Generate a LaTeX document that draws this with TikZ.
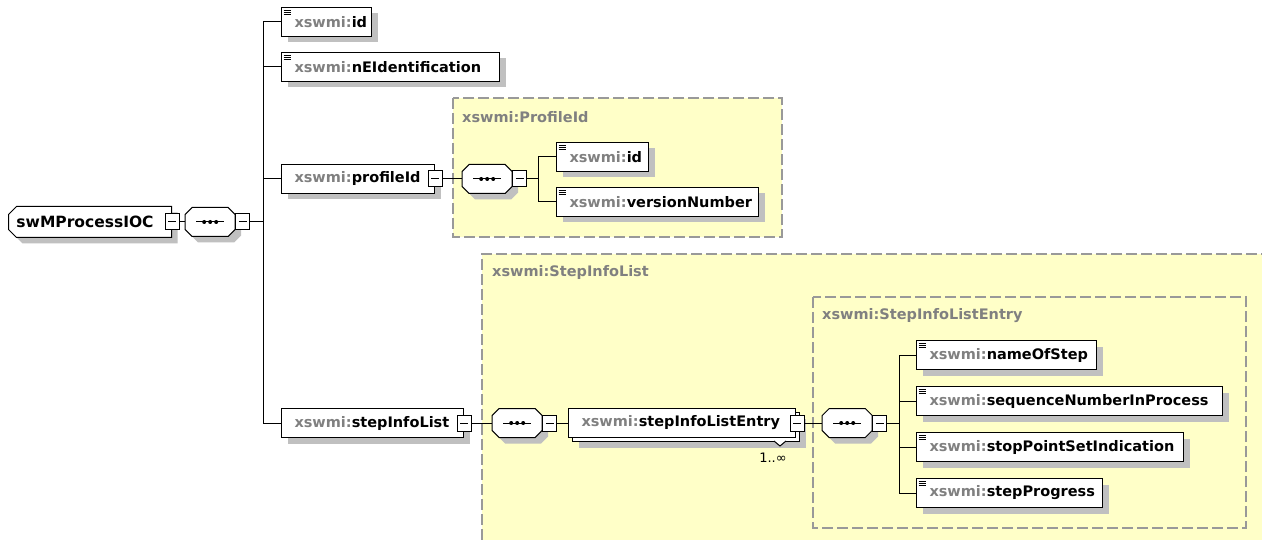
\documentclass[tikz,border=0pt]{standalone}
\usepackage{fontspec}
\setmainfont{DejaVu Sans}
\usetikzlibrary{shapes.misc,shadows}
\definecolor{ybg}{HTML}{FFFFC8}
\definecolor{dgray}{HTML}{999999}
\definecolor{sgray}{HTML}{C0C0C0}
\definecolor{pgray}{HTML}{808080}
\newcommand{\xpre}{\hspace*{13pt}{\color{pgray}xswmi:}}
\newcommand{\octpath}[2]{([shift={(#2)}]#1.center) ++(-25,-7.5) -- ++(7,-7) -- ++(36,0) -- ++(7,7) -- ++(0,15) -- ++(-7,7) -- ++(-36,0) -- ++(-7,-7) -- cycle}
\newcommand{\seqshape}[1]{%
  \fill[sgray] \octpath{#1}{6,6};
  \draw[line width=1pt, fill=white] \octpath{#1}{0,0};
  \draw[line width=1pt] ([xshift=-14pt]#1.center) -- ([xshift=14pt]#1.center);
  \foreach \k in {-6,0,6} \fill ([xshift=\k pt]#1.center) circle (2pt);}
\tikzset{
  shad/.style={drop shadow={shadow xshift=6pt, shadow yshift=-6pt, opacity=1, fill=sgray}},
  boxbase/.style={draw, fill=white, line width=1pt, rectangle, inner xsep=0pt, inner ysep=0pt,
    anchor=north west, align=left, font=\bfseries\fontsize{14.5}{16}\selectfont, minimum height=29pt},
  icon/.style={path picture={\foreach \d in {3,5,7}
      \draw[line width=0.8pt] ([shift={(2,\d)}]path picture bounding box.north west) -- ++(7,0);}},
  elem/.style={boxbase, shad, icon},
  plainel/.style={boxbase, shad},
  minus/.style={draw, fill=white, line width=1pt, rectangle, inner sep=0pt, minimum width=14pt,
    minimum height=16pt, path picture={\draw[line width=1pt]
      ([xshift=-4pt]path picture bounding box.center) -- ([xshift=4pt]path picture bounding box.center);}},
  seq/.style={rectangle, minimum width=50pt, minimum height=29pt, inner sep=0pt, anchor=west},
  conn/.style={line width=1pt},
  dsh/.style={draw=dgray, line width=1.2pt, dash pattern=on 11pt off 4pt},
  ylab/.style={anchor=west, inner sep=0pt, text=pgray, font=\bfseries\fontsize{14.5}{16}\selectfont},
}
\begin{document}
\begin{tikzpicture}[x=1pt,y=-1pt]
\useasboundingbox (0,0) rectangle (1262,540);
\fill[white] (0,0) rectangle (1262,540);
% type containers
\fill[ybg] (482,254) rectangle (1262,540);
\draw[dsh] (482,540) -- (482,254) -- (1262,254);
\fill[ybg] (453,98) rectangle (782,237);
\draw[dsh] (453,98) rectangle (782,237);
\draw[dsh] (813,297) rectangle (1246,528);
\node[ylab] (lp) at (462,117) {xswmi:ProfileId};
\node[ylab] (ls) at (492,273) {xswmi:StepInfoList};
\node[ylab] (le) at (822,316) {xswmi:StepInfoListEntry};

% root
\node[chamfered rectangle, chamfered rectangle corners={north west,south west},
  chamfered rectangle xsep=4pt, chamfered rectangle ysep=4pt, draw, fill=white, line width=1pt,
  minimum width=160pt, minimum height=31pt, inner sep=0pt, anchor=west, shad,
  font=\bfseries\fontsize{15.5}{17}\selectfont] (root) at (8,222) {\hspace*{4pt}swMProcessIOC\hspace*{14pt}};
\node[minus] (rm) at (root.east) {};
\node[seq] (seq1) at (185,222) {};
\seqshape{seq1}
\node[minus, anchor=west] (s1m) at (seq1.east) {};
\coordinate (sp1) at (263,222);

% level 1 children
\node[elem, text width=90pt] (id) at (281,7) {\xpre id};
\node[elem, text width=218pt] (nei) at (281,52) {\xpre nEIdentification};
\node[plainel, text width=153pt] (prof) at (281,164) {\hspace*{13pt}{\color{pgray}xswmi:}profileId};
\node[minus] (pm) at (prof.east) {};
\node[plainel, text width=182pt] (sil) at (281,408) {\hspace*{13pt}{\color{pgray}xswmi:}stepInfoList};
\node[minus] (sm) at (sil.east) {};

\draw[conn] (rm.east) -- (seq1.west);
\draw[conn] (s1m.east) -- (sp1);
\draw[conn] (sp1) |- (id.west);
\draw[conn] (sp1) |- (nei.west);
\draw[conn] (sp1) |- (prof.west);
\draw[conn] (sp1) |- (sil.west);

% ProfileId content
\node[seq] (seq2) at (462,179) {};
\seqshape{seq2}
\node[minus, anchor=west] (s2m) at (seq2.east) {};
\coordinate (sp2) at (538,179);
\node[elem, text width=92pt] (pid) at (556,142) {\xpre id};
\node[elem, text width=202pt] (pver) at (556,187) {\xpre versionNumber};
\draw[conn] (pm.east) -- (seq2.west);
\draw[conn] (s2m.east) -- (sp2);
\draw[conn] (sp2) |- (pid.west);
\draw[conn] (sp2) |- (pver.west);

% StepInfoList content
\node[seq] (seq3) at (492,423) {};
\seqshape{seq3}
\node[minus, anchor=west] (s3m) at (seq3.east) {};
\node[plainel, text width=227pt] (entryback) at (572,412) {\phantom{x}};
\node[boxbase, text width=227pt] (entry) at (568,408) {\hspace*{13pt}{\color{pgray}xswmi:}stepInfoListEntry};
\node[minus] (em) at ([xshift=1pt]entry.east) {};
\draw[line width=1pt, fill=white] (774,441) -- (780,446) -- (786,441);
\node[font=\fontsize{13}{15}\selectfont, inner sep=0pt] (mult) at (773,458) {1..∞};
\draw[conn] (sm.east) -- (seq3.west);
\draw[conn] (s3m.east) -- (entry.west);

% StepInfoListEntry content
\node[seq] (seq4) at (822,423) {};
\seqshape{seq4}
\node[minus, anchor=west] (s4m) at (seq4.east) {};
\coordinate (sp4) at (899,423);
\node[elem, text width=180pt] (c1) at (916,340) {\xpre nameOfStep};
\node[elem, text width=306pt] (c2) at (916,386) {\xpre sequenceNumberInProcess};
\node[elem, text width=267pt] (c3) at (916,432) {\xpre stopPointSetIndication};
\node[elem, text width=186pt] (c4) at (916,478) {\xpre stepProgress};
\draw[conn] (em.east) -- (seq4.west);
\draw[conn] (s4m.east) -- (sp4);
\draw[conn] (sp4) |- (c1.west);
\draw[conn] (sp4) |- (c2.west);
\draw[conn] (sp4) |- (c3.west);
\draw[conn] (sp4) |- (c4.west);
\end{tikzpicture}
\end{document}
